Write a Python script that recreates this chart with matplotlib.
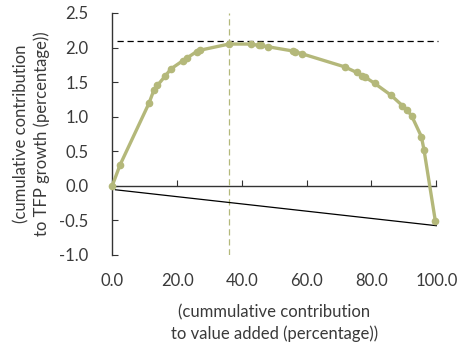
import matplotlib
matplotlib.use('Agg')
import matplotlib.pyplot as plt
import numpy as np

# cumulative share of value added (x) vs cumulative contribution to TFP growth (y)
value_added = [0.0, 2.4, 11.3, 12.9, 13.9, 16.4, 18.1, 21.8, 23.1, 26.0, 27.0,
               36.0, 42.9, 45.2, 45.8, 48.2, 55.7, 56.4, 58.5, 71.7, 75.4,
               77.2, 78.1, 81.0, 86.0, 89.5, 90.9, 92.4, 95.4, 96.2, 99.7]
tfp_growth = [0.0, 0.30, 1.19, 1.39, 1.45, 1.59, 1.69, 1.81, 1.85, 1.94, 1.96,
              2.05, 2.05, 2.03, 2.03, 2.01, 1.95, 1.94, 1.91, 1.72, 1.64,
              1.59, 1.57, 1.48, 1.31, 1.16, 1.10, 1.01, 0.71, 0.52, -0.51]

peak_level = 2.09
peak_share = 36.0
chord_x = [1.0, 100.0]
chord_y = [-0.06, -0.58]

GREEN = '#b4b87a'
TEXT = '#3a3a3a'

def main():
	plt.rcParams['font.family'] = ['Lato', 'DejaVu Sans']
	fig = plt.figure(figsize=(4.63, 3.46), dpi=100)
	ax = fig.add_axes([0.2425, 0.2639, 0.6998, 0.6986])

	ax.plot(value_added, tfp_growth, color=GREEN, lw=2.4, marker='o', ms=4.5,
			clip_on=False, zorder=3)
	ax.plot([1.5, 100.5], [peak_level, peak_level], color='black', lw=0.9,
			ls=(0, (5, 3)), clip_on=False)
	ax.axvline(peak_share, color=GREEN, lw=0.9, ls=(0, (5, 3)))
	ax.plot(chord_x, chord_y, color='black', lw=0.9, clip_on=False)

	ax.set_xlim(0, 100)
	ax.set_ylim(-1.0, 2.5)
	ax.set_xticks(np.arange(0, 101, 20))
	ax.set_xticklabels(['%.1f' % v for v in np.arange(0, 101, 20)])
	ax.set_yticks(np.arange(-1.0, 2.51, 0.5))
	ax.set_yticklabels(['%.1f' % v for v in np.arange(-1.0, 2.51, 0.5)])

	for s in ['top', 'right', 'bottom']:
		ax.spines[s].set_visible(False)
	ax.spines['left'].set_color('#333333')
	ax.spines['left'].set_linewidth(1.0)
	ax.tick_params(axis='y', direction='in', length=4, pad=17,
				   labelsize=12, labelcolor=TEXT, color='#333333')
	ax.tick_params(axis='x', length=0, pad=13, labelsize=12, labelcolor=TEXT)

	# zero line with upward ticks
	sec = ax.secondary_xaxis(1.0 / 3.5)
	sec.set_xticks(np.arange(0, 101, 20))
	sec.spines['bottom'].set_color('#333333')
	sec.spines['bottom'].set_linewidth(1.0)
	sec.tick_params(axis='x', direction='in', length=4, labelbottom=False,
					labeltop=False, color='#333333')

	ax.set_xlabel('(cummulative contribution\nto value added (percentage))',
				  fontsize=12, color=TEXT, labelpad=11, linespacing=1.4)
	ax.set_ylabel('(cumulative contribution\nto TFP growth (percentage))',
				  fontsize=12, color=TEXT, labelpad=7, linespacing=1.3)

	fig.savefig('out.png', dpi=100)

if __name__ == '__main__':
	main()
